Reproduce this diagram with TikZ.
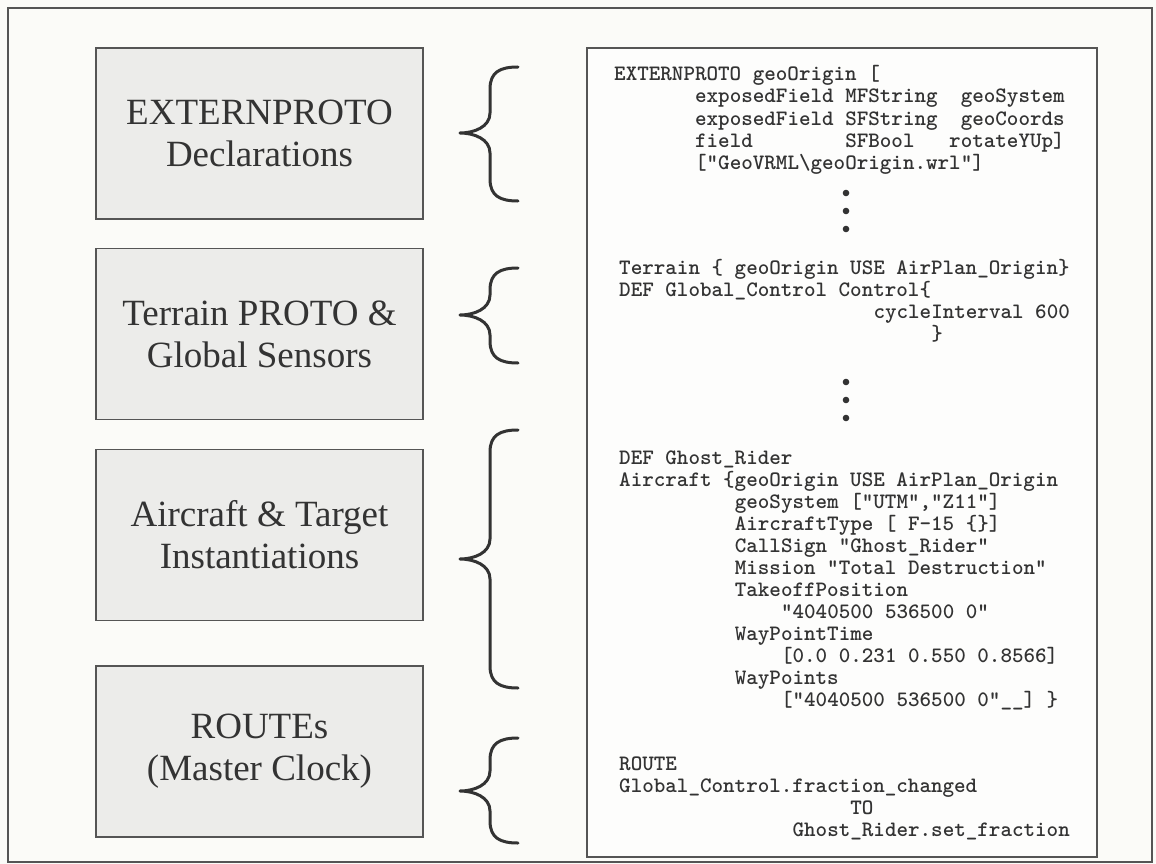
\documentclass[tikz,border=0pt]{standalone}
\usepackage{fontspec}
\newfontfamily\labelfont{Liberation Serif}
\newcommand\cdfont{\ttfamily\bfseries\fontsize{22}{22}\selectfont}
\definecolor{paper}{HTML}{FBFBF8}
\definecolor{boxfill}{HTML}{ECECEA}
\definecolor{ink}{HTML}{333333}
\definecolor{edge}{HTML}{555555}
% curly brace opening to the right: name, top y, cusp y, bottom y
\newcommand\sectionbrace[4]{%
  \draw[bracestyle] (518,#2) .. controls (500,#2) and (490,#2+5) .. (490,#2+22)
    -- (490,#3-20) .. controls (490,#3-6) and (474,#3) .. (460,#3)
    .. controls (474,#3) and (490,#3+6) .. (490,#3+20)
    -- (490,#4-22) .. controls (490,#4-5) and (500,#4) .. (518,#4);
  \coordinate (#1) at (460,#3);}
\begin{document}
\begin{tikzpicture}[x=1pt,y=-1pt,
  labelbox/.style={draw=edge, line width=1.3pt, fill=boxfill, minimum width=327pt,
    minimum height=171pt, align=center, text=ink, inner sep=0pt,
    font=\labelfont\fontsize{37}{42}\selectfont},
  codebox/.style={draw=edge, line width=1.3pt, fill=white!60!paper, minimum width=510pt,
    minimum height=809pt, inner sep=0pt},
  codeline/.style={anchor=base west, inner sep=0pt, text=ink, font=\cdfont},
  bracestyle/.style={draw=ink, line width=3pt, line cap=round, line join=round},
  dot/.style={fill=ink}]
\useasboundingbox (0,0) rectangle (1156,864);
\fill[paper] (0,0) rectangle (1156,864);
\draw[edge, line width=1.3pt] (8,8) rectangle (1152,862);

% section boxes
\node[labelbox] (ext)   at (259.5,133.5) {EXTERNPROTO\\Declarations};
\node[labelbox] (ter)   at (259.5,334)   {Terrain PROTO \&\\Global Sensors};
\node[labelbox] (air)   at (259.5,535)   {Aircraft \& Target\\Instantiations};
\node[labelbox] (route) at (259.5,751.5) {ROUTEs\\(Master Clock)};

% braces
\sectionbrace{b1}{67}{133}{201}
\sectionbrace{b2}{268}{315}{363}
\sectionbrace{b3}{430}{559}{688}
\sectionbrace{b4}{738}{791}{843}

% code listing
\node[codebox] (code) at (842,452.5) {};

\node[codeline] (l1) at (614,81)  {EXTERNPROTO geoOrigin [};
\node[codeline] (l2) at ({614+7*11.56},103) {exposedField MFString~~geoSystem};
\node[codeline] (l3) at ({614+7*11.56},125) {exposedField SFString~~geoCoords};
\node[codeline] (l4) at ({614+7*11.56},147) {field~~~~~~~~SFBool~~~rotateYUp]};
\node[codeline] (l5) at ({614+7*11.56},169) {["GeoVRML\textbackslash geoOrigin.wrl"]};
\foreach \y in {193,211,229} \fill[dot] (846,\y) circle (3.3pt);

\node[codeline] (t1) at (619,274) {Terrain \{ geoOrigin USE AirPlan\_Origin\}};
\node[codeline] (t2) at (619,296) {DEF Global\_Control Control\{};
\node[codeline] (t3) at ({619+22*11.56},318) {cycleInterval 600};
\node[codeline] (t4) at ({619+27*11.56},340) {\}};
\foreach \y in {382,400,418} \fill[dot] (846,\y) circle (3.3pt);

\node[codeline] (a1)  at (619,464) {DEF Ghost\_Rider};
\node[codeline] (a2)  at (619,486) {Aircraft \{geoOrigin USE AirPlan\_Origin};
\node[codeline] (a3)  at ({619+10*11.56},508) {geoSystem ["UTM","Z11"]};
\node[codeline] (a4)  at ({619+10*11.56},530) {AircraftType [ F-15 \{\}]};
\node[codeline] (a5)  at ({619+10*11.56},552) {CallSign "Ghost\_Rider"};
\node[codeline] (a6)  at ({619+10*11.56},574) {Mission "Total Destruction"};
\node[codeline] (a7)  at ({619+10*11.56},596) {TakeoffPosition};
\node[codeline] (a8)  at ({619+14*11.56},618) {"4040500 536500 0"};
\node[codeline] (a9)  at ({619+10*11.56},640) {WayPointTime};
\node[codeline] (a10) at ({619+14*11.56},662) {[0.0 0.231 0.550 0.8566]};
\node[codeline] (a11) at ({619+10*11.56},684) {WayPoints};
\node[codeline] (a12) at ({619+14*11.56},706) {["4040500 536500 0"\_\_] \}};

\node[codeline] (r1) at (619,770) {ROUTE};
\node[codeline] (r2) at (619,792) {Global\_Control.fraction\_changed};
\node[codeline] (r3) at ({619+20*11.56},814) {TO};
\node[codeline] (r4) at ({619+15*11.56},836) {Ghost\_Rider.set\_fraction};
\end{tikzpicture}
\end{document}
